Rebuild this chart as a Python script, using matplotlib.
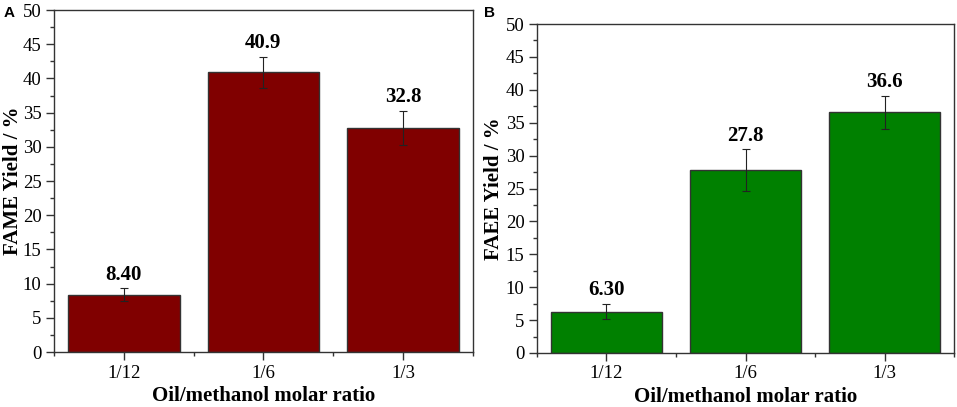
import matplotlib
matplotlib.use("Agg")
import matplotlib.pyplot as plt
from matplotlib.ticker import MultipleLocator, FixedLocator

plt.rcParams['font.family'] = ['Liberation Serif', 'DejaVu Serif']

ratios = ["1/12", "1/6", "1/3"]
fame_yield = [8.40, 40.9, 32.8]
fame_err = [0.9, 2.3, 2.5]
faee_yield = [6.30, 27.8, 36.6]
faee_err = [1.2, 3.2, 2.5]
fame_labels = ["8.40", "40.9", "32.8"]
faee_labels = ["6.30", "27.8", "36.6"]


def draw_panel(ax, values, errors, labels, color, ylabel, ylab_x, xlab_y):
    x = list(range(1, len(ratios) + 1))
    ax.bar(x, values, width=0.8, color=color, edgecolor="#333333", linewidth=1.0,
           yerr=errors, capsize=3, error_kw=dict(ecolor="#222222", elinewidth=0.8, capthick=0.8),
           zorder=2)
    for xi, v, e, lab in zip(x, values, errors, labels):
        ax.text(xi, v + e + 0.5, lab, ha="center", va="bottom",
                fontsize=15, fontweight="bold")
    ax.set_xlim(0.5, 3.5)
    ax.set_ylim(0, 50)
    ax.set_xticks(x)
    ax.set_xticklabels(ratios)
    ax.xaxis.set_minor_locator(FixedLocator([0.5, 1.5, 2.5, 3.5]))
    ax.yaxis.set_major_locator(MultipleLocator(5))
    ax.yaxis.set_minor_locator(MultipleLocator(2.5))
    ax.tick_params(axis="both", which="major", direction="out", length=6, width=1,
                   labelsize=13.5, color="#333333", pad=3)
    ax.tick_params(axis="both", which="minor", direction="out", length=3, width=1,
                   color="#333333")
    ax.tick_params(top=False, right=False, which="both")
    for sp in ax.spines.values():
        sp.set_linewidth(1.0)
        sp.set_color("#333333")
    ax.set_xlabel("Oil/methanol molar ratio", fontsize=15, fontweight="bold", va="center")
    ax.set_ylabel(ylabel, fontsize=15, fontweight="bold", va="center")
    ax.xaxis.set_label_coords(0.5, xlab_y)
    ax.yaxis.set_label_coords(ylab_x, 0.5)


fig = plt.figure(figsize=(9.57, 4.07), dpi=100)
ax_a = fig.add_axes([0.0564, 0.1351, 0.4376, 0.8403])
ax_b = fig.add_axes([0.5611, 0.1327, 0.4358, 0.8083])

draw_panel(ax_a, fame_yield, fame_err, fame_labels, "#800000", "FAME Yield / %", -0.098, -0.13)
draw_panel(ax_b, faee_yield, faee_err, faee_labels, "#008000", "FAEE Yield / %", -0.104, -0.135)

fig.text(4 / 957, 1 - 6 / 407, "A", family="Liberation Sans", fontweight="bold",
         fontsize=11, ha="left", va="top")
fig.text(484 / 957, 1 - 6 / 407, "B", family="Liberation Sans", fontweight="bold",
         fontsize=11, ha="left", va="top")

fig.savefig("out.png", dpi=100)
